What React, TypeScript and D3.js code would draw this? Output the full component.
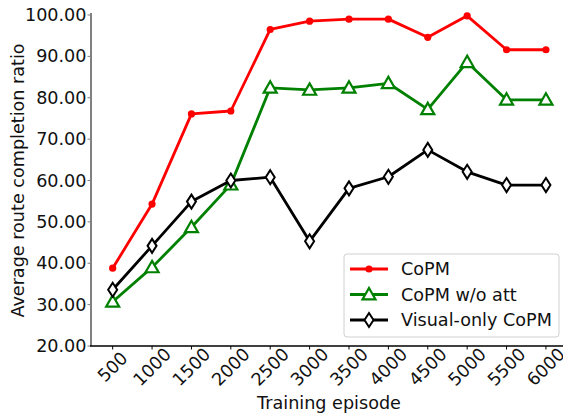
import React from 'react';
import * as d3 from 'd3';

const episodes = [500, 1000, 1500, 2000, 2500, 3000, 3500, 4000, 4500, 5000, 5500, 6000];
const copm = [38.8, 54.3, 76.1, 76.8, 96.5, 98.5, 99.0, 99.0, 94.6, 99.8, 91.6, 91.6];
const copmNoAtt = [30.7, 39.0, 48.7, 59.0, 82.4, 81.9, 82.4, 83.5, 77.2, 88.6, 79.5, 79.5];
const visualOnly = [33.6, 44.2, 54.9, 60.0, 60.8, 45.3, 58.1, 60.9, 67.4, 62.1, 58.9, 58.9];
const yTicks = [20, 30, 40, 50, 60, 70, 80, 90, 100];

const W = 563;
const H = 418;
const FONT = 'DejaVu Sans, sans-serif';
const FS = 17.6;
const TEXT = '#111';

type Marker = 'dot' | 'tri' | 'diamond';

function MarkerShape({ kind, x, y, color }: { kind: Marker; x: number; y: number; color: string }) {
  if (kind === 'dot') return <circle cx={x} cy={y} r={3.6} fill={color} />;
  if (kind === 'tri') {
    const s = 6.5;
    return (
      <path
        d={`M${x},${y - s} L${x + s},${y + s * 0.75} L${x - s},${y + s * 0.75} Z`}
        fill="white"
        stroke={color}
        strokeWidth={2.2}
      />
    );
  }
  const w = 4.5;
  const h = 7;
  return (
    <path
      d={`M${x},${y - h} L${x + w},${y} L${x},${y + h} L${x - w},${y} Z`}
      fill="white"
      stroke={color}
      strokeWidth={2}
    />
  );
}

export default function App() {
  // x domain includes matplotlib's 5% margin around 500..6000
  const x = d3.scaleLinear().domain([225, 6275]).range([91, 567.6]);
  const y = d3.scaleLinear().domain([20, 100]).range([346, 15]);

  const series = [
    { name: 'CoPM', values: copm, color: '#ff0000', marker: 'dot' as Marker },
    { name: 'CoPM w/o att', values: copmNoAtt, color: '#008000', marker: 'tri' as Marker },
    { name: 'Visual-only CoPM', values: visualOnly, color: '#000000', marker: 'diamond' as Marker },
  ];

  const line = d3
    .line<number>()
    .x((_, i) => x(episodes[i]))
    .y((d) => y(d));

  const legendX = 344;
  const legendY = 254;

  return (
    <svg
      width={W}
      height={H}
      style={{ position: 'absolute', left: 0, top: 0, background: 'white' }}
      fontFamily={FONT}
    >
      <rect width={W} height={H} fill="white" />

      {/* y ticks */}
      {yTicks.map((t) => (
        <g key={t}>
          <line x1={87.5} x2={91} y1={y(t)} y2={y(t)} stroke="#808080" strokeWidth={1} />
          <text
            x={86.5}
            y={y(t)}
            textAnchor="end"
            dominantBaseline="central"
            fontSize={FS}
            fill={TEXT}
          >
            {t.toFixed(2)}
          </text>
        </g>
      ))}

      {/* x ticks */}
      {episodes.map((e) => (
        <g key={e}>
          <line x1={x(e)} x2={x(e)} y1={346} y2={349.5} stroke="#000" strokeWidth={1} />
          <text
            transform={`translate(${x(e)},${367}) rotate(-45)`}
            textAnchor="middle"
            dominantBaseline="central"
            fontSize={FS}
            fill={TEXT}
          >
            {e}
          </text>
        </g>
      ))}

      {/* spines */}
      <line x1={91} x2={91} y1={13} y2={346} stroke="#808080" strokeWidth={2} />
      <line x1={90} x2={W} y1={346} y2={346} stroke="#000" strokeWidth={1.3} />

      {/* series */}
      {series.map((s) => (
        <g key={s.name}>
          <path d={line(s.values) || ''} fill="none" stroke={s.color} strokeWidth={2.8} strokeLinejoin="round" />
          {s.values.map((v, i) => (
            <MarkerShape key={i} kind={s.marker} x={x(episodes[i])} y={y(v)} color={s.color} />
          ))}
        </g>
      ))}

      {/* axis titles */}
      <text x={329} y={409} textAnchor="middle" fontSize={FS} fill={TEXT}>
        Training episode
      </text>
      <text
        transform={`translate(24,${180.5}) rotate(-90)`}
        textAnchor="middle"
        fontSize={FS}
        fill={TEXT}
      >
        Average route completion ratio
      </text>

      {/* legend */}
      <rect
        x={legendX}
        y={legendY}
        width={215}
        height={83}
        rx={3}
        fill="white"
        fillOpacity={0.85}
        stroke="#d0d0d0"
        strokeWidth={1}
      />
      {series.map((s, i) => {
        const ly = 269 + i * 25.5;
        return (
          <g key={s.name}>
            <line x1={350} x2={388} y1={ly} y2={ly} stroke={s.color} strokeWidth={2.8} />
            <MarkerShape kind={s.marker} x={369} y={ly} color={s.color} />
            <text x={401} y={ly} dominantBaseline="central" fontSize={FS} fill={TEXT}>
              {s.name}
            </text>
          </g>
        );
      })}
    </svg>
  );
}
